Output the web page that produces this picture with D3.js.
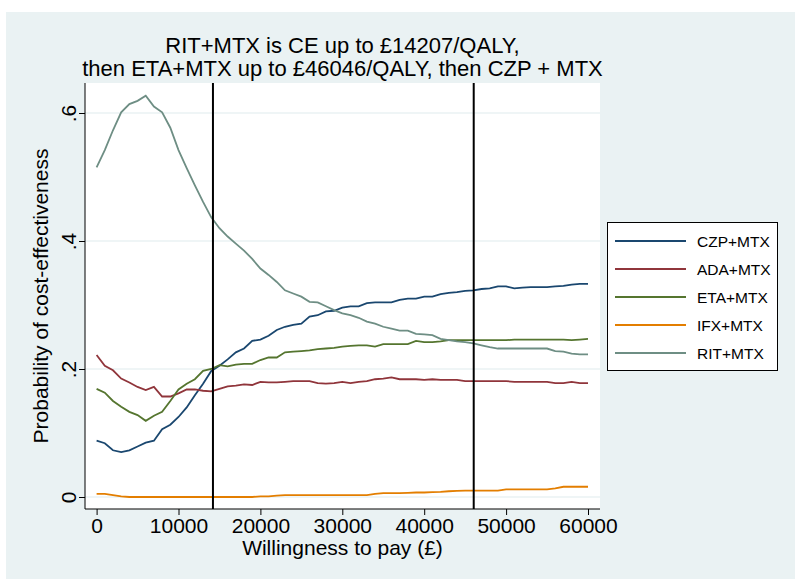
<!DOCTYPE html>
<html>
<head>
<meta charset="utf-8">
<script src="https://cdn.jsdelivr.net/npm/d3@7"></script>
<style>
  body { margin: 0; background: #fff; }
  svg { display: block; font-family: "Liberation Sans", Arial, sans-serif; }
</style>
</head>
<body>
<div id="chart"></div>
<script>
// willingness to pay grid (GBP)
const wtp = [0,1000,2000,3000,4000,5000,6000,7000,8000,9000,10000,11000,12000,13000,14000,15000,16000,17000,18000,19000,20000,
  21000,22000,23000,24000,25000,26000,27000,28000,29000,30000,31000,32000,33000,34000,35000,36000,37000,38000,39000,40000,
  41000,42000,43000,44000,45000,46000,47000,48000,49000,50000,51000,52000,53000,54000,55000,56000,57000,58000,59000,60000]

const czp = [.088,.084,.073,.070,.073,.079,.085,.088,.106,.113,.125,.140,.159,.177,.197,.205,.215,.226,.232,.244,.246,
  .252,.261,.266,.269,.271,.282,.284,.290,.291,.296,.298,.298,.303,.304,.304,.304,.308,.310,.310,.313,
  .313,.317,.319,.320,.322,.323,.325,.326,.329,.329,.326,.327,.328,.328,.328,.329,.330,.332,.333,.333]

const ada = [.222,.205,.198,.185,.179,.172,.167,.172,.157,.157,.162,.168,.168,.166,.165,.169,.173,.174,.176,.175,.180,
  .179,.179,.180,.181,.181,.181,.178,.177,.178,.180,.178,.180,.181,.184,.185,.187,.184,.184,.184,.183,
  .184,.183,.183,.183,.181,.181,.181,.181,.181,.181,.180,.180,.180,.180,.180,.178,.178,.180,.178,.178]

const eta = [.169,.163,.150,.141,.133,.128,.119,.127,.133,.150,.168,.177,.184,.197,.200,.206,.204,.207,.208,.208,.214,
  .218,.218,.226,.227,.228,.229,.231,.232,.233,.235,.236,.237,.237,.235,.239,.239,.239,.239,.244,.242,
  .242,.243,.245,.245,.245,.245,.245,.245,.245,.245,.246,.246,.246,.246,.246,.246,.246,.245,.246,.247]

const ifx = [.005,.005,.003,.001,0,0,0,0,0,0,0,0,0,0,0,0,0,0,0,0,.001,
  .001,.002,.003,.003,.003,.003,.003,.003,.003,.003,.003,.003,.003,.005,.006,.006,.006,.0065,.007,.007,
  .0075,.008,.009,.0095,.010,.010,.010,.010,.010,.012,.012,.012,.012,.012,.012,.0135,.016,.016,.016,.016]

const rit = [.515,.542,.573,.601,.614,.619,.627,.610,.601,.577,.542,.514,.487,.461,.437,.420,.407,.396,.385,.372,.357,
  .347,.336,.323,.318,.313,.305,.304,.298,.292,.287,.284,.280,.274,.271,.266,.263,.260,.260,.255,.254,
  .253,.247,.245,.243,.242,.240,.237,.234,.232,.232,.232,.232,.232,.232,.232,.228,.227,.224,.223,.223]

const seriesNames = ["CZP+MTX", "ADA+MTX", "ETA+MTX", "IFX+MTX", "RIT+MTX"]
const seriesValues = [czp, ada, eta, ifx, rit]
const colors = ["#1a476f", "#90353b", "#55752f", "#e37e00", "#6e8e84"]

const thresholds = [14207, 46046]
const xTicks = [0, 10000, 20000, 30000, 40000, 50000, 60000]
const yTicks = [0, 0.2, 0.4, 0.6]
const yTickLabels = ["0", ".2", ".4", ".6"]

const width = 795, height = 581
const plot = { left: 85, right: 600, top: 83, bottom: 509 }

const svg = d3.select("#chart").append("svg")
  .attr("width", width)
  .attr("height", height)

// graph region background
svg.append("rect")
  .attr("x", 6).attr("y", 12)
  .attr("width", width - 6).attr("height", 567)
  .attr("fill", "#eaf2f3")

svg.append("rect")
  .attr("x", plot.left).attr("y", plot.top)
  .attr("width", plot.right - plot.left).attr("height", plot.bottom - plot.top)
  .attr("fill", "#fff")

const x = d3.scaleLinear().domain([0, 60000]).range([96.6, 588])
const y = d3.scaleLinear().domain([0, 0.6]).range([497, 113])

// gridlines
svg.append("g")
  .selectAll("line")
  .data(yTicks)
  .join("line")
  .attr("x1", plot.left).attr("x2", plot.right)
  .attr("y1", d => y(d)).attr("y2", d => y(d))
  .attr("stroke", "#eaf2f3")
  .attr("stroke-width", 1.6)

// axes
const yAxis = svg.append("g")
  .attr("transform", `translate(${plot.left},0)`)
  .call(d3.axisLeft(y).tickValues(yTicks).tickSize(6).tickSizeOuter(0).tickFormat((d, i) => yTickLabels[i]))
yAxis.select(".domain").attr("d", `M0,${plot.top}V${plot.bottom}`).attr("stroke", "#000")
yAxis.selectAll(".tick line").attr("stroke", "#000")
// rotated tick labels, as stata draws them
yAxis.selectAll(".tick text")
  .attr("font-size", 21)
  .attr("fill", "#000")
  .attr("transform", "rotate(-90)")
  .attr("x", 0).attr("y", -9)
  .attr("dy", 0)
  .attr("text-anchor", "middle")

const xAxis = svg.append("g")
  .attr("transform", `translate(0,${plot.bottom})`)
  .call(d3.axisBottom(x).tickValues(xTicks).tickSize(6).tickSizeOuter(0).tickFormat(d3.format("d")))
xAxis.select(".domain").attr("d", `M${plot.left},0H${plot.right}`).attr("stroke", "#000")
xAxis.selectAll(".tick line").attr("stroke", "#000")
xAxis.selectAll(".tick text")
  .attr("font-size", 21)
  .attr("fill", "#000")
  .attr("y", 6)
  .attr("dy", "0.85em")

// axis titles
svg.append("text")
  .attr("x", (plot.left + plot.right) / 2)
  .attr("y", 555)
  .attr("text-anchor", "middle")
  .attr("font-size", 21)
  .text("Willingness to pay (£)")

svg.append("text")
  .attr("transform", `translate(48,${(plot.top + plot.bottom) / 2}) rotate(-90)`)
  .attr("text-anchor", "middle")
  .attr("font-size", 21)
  .text("Probability of cost-effectiveness")

// chart title
const cx = (plot.left + plot.right) / 2
const title = svg.append("text")
  .attr("text-anchor", "middle")
  .attr("font-size", 22)
title.append("tspan").attr("x", cx).attr("y", 53)
  .text("RIT+MTX is CE up to £14207/QALY,")
title.append("tspan").attr("x", cx).attr("y", 76)
  .text("then ETA+MTX up to £46046/QALY, then CZP + MTX")

// series lines
const line = d3.line()
  .x((d, i) => x(wtp[i]))
  .y(d => y(d))

svg.append("g")
  .selectAll("path")
  .data(seriesValues)
  .join("path")
  .attr("d", d => line(d))
  .attr("fill", "none")
  .attr("stroke", (d, i) => colors[i])
  .attr("stroke-width", 1.8)

// threshold lines
svg.append("g")
  .selectAll("line")
  .data(thresholds)
  .join("line")
  .attr("x1", d => x(d)).attr("x2", d => x(d))
  .attr("y1", plot.top).attr("y2", plot.bottom)
  .attr("stroke", "#000")
  .attr("stroke-width", 2)

// legend
const legend = svg.append("g")
legend.append("rect")
  .attr("x", 607.5).attr("y", 222.5)
  .attr("width", 170).attr("height", 148)
  .attr("fill", "#fff")
  .attr("stroke", "#000")
  .attr("stroke-width", 1)

const rows = legend.selectAll("g.row")
  .data(seriesNames)
  .join("g")
  .attr("class", "row")
  .attr("transform", (d, i) => `translate(0,${241 + i * 28})`)
rows.append("line")
  .attr("x1", 615).attr("x2", 686)
  .attr("stroke", (d, i) => colors[i])
  .attr("stroke-width", 1.8)
rows.append("text")
  .attr("x", 697)
  .attr("dy", "0.36em")
  .attr("font-size", 15.5)
  .text(d => d)
</script>
</body>
</html>
